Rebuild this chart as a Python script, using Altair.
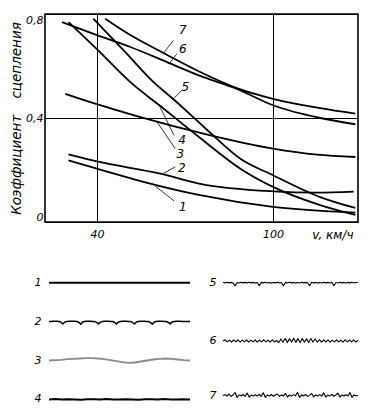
import altair as alt
import pandas as pd

FONT = "DejaVu Sans"

# ---------------- main chart data (speed km/h, adhesion coefficient) -------------
c1_x = [30.3, 40, 60.5, 75.2, 100, 128.1]
c1_y = [0.237, 0.205, 0.141, 0.103, 0.058, 0.036]
c2_x = [30.3, 40, 61.6, 75.2, 100, 115, 127.5]
c2_y = [0.26, 0.233, 0.186, 0.147, 0.118, 0.113, 0.117]
c3_x = [29.2, 40, 53.6, 78.7, 100, 115, 128.1]
c3_y = [0.493, 0.453, 0.407, 0.333, 0.282, 0.259, 0.25]
c4_x = [30.3, 40, 51.4, 61.6, 75.2, 88.9, 100, 116.1, 128.1]
c4_y = [0.769, 0.665, 0.538, 0.446, 0.323, 0.205, 0.135, 0.065, 0.027]
c5_x = [38.8, 49.6, 59.3, 66, 77.6, 88.9, 100, 116.1, 128.1]
c5_y = [0.782, 0.654, 0.538, 0.473, 0.354, 0.243, 0.18, 0.096, 0.054]
c6_x = [28.1, 40, 51.4, 63.9, 75.2, 87.7, 100, 116.1, 128.1]
c6_y = [0.769, 0.719, 0.673, 0.615, 0.562, 0.512, 0.449, 0.4, 0.376]
c7_x = [42.8, 51.4, 62.7, 75.2, 87.7, 100, 116.1, 128.1]
c7_y = [0.782, 0.719, 0.65, 0.577, 0.515, 0.474, 0.438, 0.417]

curve_ids = ["1", "2", "3", "4", "5", "6", "7"]
curve_xs = [c1_x, c2_x, c3_x, c4_x, c5_x, c6_x, c7_x]
curve_ys = [c1_y, c2_y, c3_y, c4_y, c5_y, c6_y, c7_y]

# curve number labels and their leader lines
lab_txt = ["1", "2", "3", "4", "5", "6", "7"]
lab_x = [69.3, 68.9, 68.4, 69.0, 70.1, 69.3, 69.3]
lab_y = [0.058, 0.208, 0.263, 0.314, 0.519, 0.667, 0.737]
lead_x1 = [66.3, 66.7, 66.7, 66.3, 69.0, 67.3, 66.1]
lead_y1 = [0.081, 0.212, 0.282, 0.333, 0.507, 0.647, 0.699]
lead_x2 = [59.9, 62.5, 60.3, 61.4, 66.1, 64.4, 62.7]
lead_y2 = [0.138, 0.186, 0.388, 0.445, 0.474, 0.607, 0.650]

x_ticks = [40, 100]
y_ticks = [0, 0.4, 0.8]

# ---------------- legend profiles (heights in px, up positive) -------------------
p1 = [0, 0]
p2 = [0, 0.2, 0.3, 0.3, 0.3, 0.2, -0.6, -2.4, -0.4,
      0.2, 0.3, 0.4, 0.3, 0.3, 0.1, -0.7, -2.6, -0.3,
      0.1, 0.3, 0.3, 0.3, 0.2, 0.0, -0.8, -2.3, -0.5,
      0.2, 0.3, 0.3, 0.3, 0.2, 0.1, -0.6, -2.5, -0.4,
      0.1, 0.3, 0.4, 0.3, 0.2, 0.0, -0.7, -2.4, -0.3,
      0.2, 0.3, 0.3, 0.3, 0.2, 0.1, -0.8, -2.6, -0.4,
      0.1, 0.3, 0.4, 0.3, 0.2, 0.1, -0.6, -2.3, -0.3,
      0.2, 0.3, 0.3, 0.3, 0.2, 0.1, 0.0, 0.0, 0.0]
p3 = [0, 0.33, 0.67, 1.33, 1.67, 2.0, 2.33, 2.33, 2.0, 1.33, 0.33, -0.67,
      -1.67, -2.33, -2.0, -1.0, 0, 1.0, 1.67, 2.0, 1.67, 1.0, 0.33, 0]
p4 = [0, 0.3, -0.2, 0.2, 0, -0.3, 0.2, 0.1, -0.2, 0.3, 0, -0.2, 0.2, 0,
      -0.3, 0.2, 0.1, -0.2, 0.3, 0, -0.1, 0.2, 0]
p5 = [0.5, -0.3, 0.4, -0.2, 0.3, -0.4, -3.0, 0.2, -0.3, 0.4, -0.2, 0.3, -0.3,
      0.4, -0.2, 0.3, -0.4, 0.2, -3.0, 0.3, -0.2, 0.4, -0.3, 0.2, -0.4, 0.3,
      -0.2, 0.4, -0.3, 0.2, -3.2, 0.3, -0.3, 0.4, -0.2, 0.3, -0.4, 0.2, -0.3,
      0.4, -0.2, 0.3, -0.3, -3.0, 0.4, -0.2, 0.3, -0.4, 0.2, -0.3, 0.4, -0.2,
      0.3, -0.3, 0.4, -3.1, 0.2, -0.3, 0.4, -0.2, 0.3, -0.4, 0.3, -0.2, 0.4,
      -0.3, 0.2, 0.5]
p6 = [0, 1.2, -0.8, 1.0, -1.0, 1.2, -0.9, 1.1, -1.0, 1.0, -0.8, 1.2, -1.0,
      0.9, -0.9, 1.1, -1.0, 1.0, -0.8, 1.2, -0.9, 1.0, -1.0, 1.1, -0.8, 0.6,
      -1.5, 2.0, -1.2, 2.5, -1.5, 2.2, -1.0, 2.8, -1.3, 2.4, -1.5, 2.6, -1.2,
      2.2, -1.4, 2.5, -1.0, 2.0, -1.2, 1.4, -1.0, 1.2, -0.9, 1.1, -1.0, 1.0,
      -0.8, 1.2, -0.9, 1.0, -1.0, 1.1, -0.8, 1.0, -0.9, 1.2, -1.0, 0.5]
p7 = [0, 0.8, -0.5, 1.5, -1.0, 0.6, 3.0, -2.0, 0.5, -0.3, 1.0, -0.8, 2.5,
      -1.5, 0.4, -0.6, 0.8, -0.4, 1.2, -0.8, 2.8, -1.8, 0.6, -0.5, 1.0, -0.7,
      0.5, 1.5, -0.8, 0.6, -0.4, 2.2, -1.5, 0.5, -0.6, 0.9, -0.3, 3.2, -2.0,
      0.7, -0.5, 1.1, -0.9, 0.4, 2.0, -1.4, 0.6, -0.5, 0.9, -0.6, 2.6, -1.6,
      0.5, -0.4, 1.0, -0.7, 0.5, 2.4, -1.5, 0.6, -0.5, 0.8, -0.4, 3.0, -1.8,
      0.6, -0.3, 0]
leg_ids = ["1", "2", "3", "4", "5", "6", "7"]
leg_profiles = [p1, p2, p3, p4, p5, p6, p7]

# ---------------- layout / style (not data) --------------------------------------
leg_col = ["L", "L", "L", "L", "R", "R", "R"]
leg_row = [0, 1, 2, 3, 0, 1.5, 2.9]
ROW_GAP = 38.9
SPAN = {"L": (4, 145), "R": (178, 313)}
LABEL_X = {"L": -7, "R": 168}
leg_color = ["black", "black", "#8a8a8a", "black", "black", "black", "black"]
leg_width = [2.0, 1.5, 1.8, 2.0, 1.1, 1.1, 1.1]

# ---------------- build tables -----------------------------------------------------
rows = []
for cid, xs, ys in zip(curve_ids, curve_xs, curve_ys):
    for i, (x, y) in enumerate(zip(xs, ys)):
        rows.append({"curve": cid, "i": i, "v": x, "k": y})
curves_df = pd.DataFrame(rows)

labels_df = pd.DataFrame({"t": lab_txt, "v": lab_x, "k": lab_y})
leaders_df = pd.DataFrame({"v": lead_x1, "k": lead_y1, "v2": lead_x2, "k2": lead_y2})

xscale = alt.Scale(domain=[22.3, 129], nice=False, zero=False)
yscale = alt.Scale(domain=[0, 0.8], nice=False, zero=False)

x_axis = alt.Axis(values=x_ticks, title="v, км/ч", grid=True, labelPadding=6,
                  titleX=308, titleY=12, titleAlign="right", titleBaseline="middle",
                  titleFontSize=12, titleAngle=0)
y_axis = alt.Axis(values=y_ticks, title="Коэффициент\u2003\u2009сцепления", grid=True,
                  labelPadding=2, labelFlush=True, titleFontSize=13.5,
                  labelExpr="datum.value == 0 ? '0' : replace(format(datum.value, '.1f'), '.', ',')",
                  titlePadding=2)

curves = alt.Chart(curves_df).mark_line(
    color="black", strokeWidth=1.8, interpolate="monotone"
).encode(
    x=alt.X("v:Q", scale=xscale, axis=x_axis),
    y=alt.Y("k:Q", scale=yscale, axis=y_axis),
    detail="curve:N",
    order="i:Q",
)

leaders = alt.Chart(leaders_df).mark_rule(color="black", strokeWidth=0.8).encode(
    x=alt.X("v:Q", scale=xscale),
    y=alt.Y("k:Q", scale=yscale),
    x2="v2:Q",
    y2="k2:Q",
)

labels = alt.Chart(labels_df).mark_text(
    font=FONT, fontStyle="italic", fontSize=12, color="black"
).encode(
    x=alt.X("v:Q", scale=xscale),
    y=alt.Y("k:Q", scale=yscale),
    text="t:N",
)

top = alt.layer(curves, leaders, labels).properties(
    width=313, height=208,
    view=alt.ViewBackground(stroke="black", strokeWidth=1.6),
)

# ---------------- legend panel ------------------------------------------------------
lrows = []
lab_rows = []
for j, (lid, prof) in enumerate(zip(leg_ids, leg_profiles)):
    col = leg_col[j]
    x0, x1 = SPAN[col]
    n = len(prof)
    base = leg_row[j] * ROW_GAP
    for i, h in enumerate(prof):
        lrows.append({"id": lid, "i": i, "px": x0 + (x1 - x0) * i / (n - 1),
                      "py": base - h, "col": leg_color[j], "sw": leg_width[j]})
    lab_rows.append({"id": lid, "px": LABEL_X[col], "py": base})
leg_df = pd.DataFrame(lrows)
leg_lab_df = pd.DataFrame(lab_rows)

lx = alt.Scale(domain=[0, 313], nice=False, zero=False)
ly = alt.Scale(domain=[-11.7, 123.3], nice=False, zero=False, reverse=True)

leg_lines = alt.Chart(leg_df).mark_line(strokeJoin="round").encode(
    x=alt.X("px:Q", scale=lx, axis=None),
    y=alt.Y("py:Q", scale=ly, axis=None),
    detail="id:N",
    order="i:Q",
    color=alt.Color("col:N", scale=None),
    strokeWidth=alt.StrokeWidth("sw:Q", scale=None),
)
leg_text = alt.Chart(leg_lab_df).mark_text(
    font=FONT, fontStyle="italic", fontSize=11, color="black"
).encode(
    x=alt.X("px:Q", scale=lx, axis=None),
    y=alt.Y("py:Q", scale=ly, axis=None),
    text="id:N",
)
legend = alt.layer(leg_lines, leg_text).properties(width=313, height=135)

chart = alt.vconcat(top, legend, spacing=30).configure_view(
    stroke=None
).configure_axis(
    labelFont=FONT, labelFontStyle="italic", labelFontSize=11, labelColor="black",
    titleFont=FONT, titleFontStyle="italic", titleFontWeight="normal", titleColor="black",
    ticks=False, domain=False, gridColor="black", gridOpacity=1, gridWidth=1,
).properties(
    padding={"left": 0, "top": 5, "right": 5, "bottom": 0},
    background="white",
)

chart.save("out.html", embed_options={"renderer": "svg", "actions": False})
